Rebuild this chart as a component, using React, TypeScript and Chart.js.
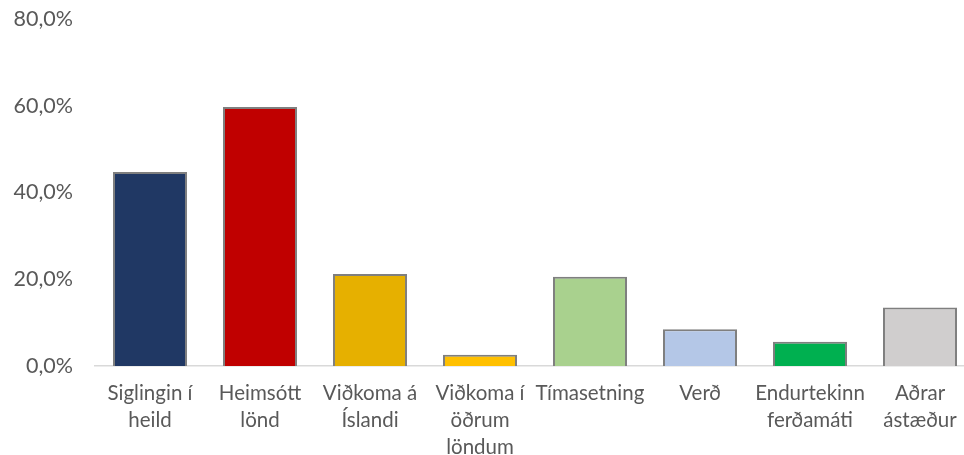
import React, { useEffect, useRef } from "react";
import { Chart, registerables } from "chart.js";

Chart.register(...registerables);

const categories: (string | string[])[] = [
  ["Siglingin í", "heild"],
  ["Heimsótt", "lönd"],
  ["Viðkoma á", "Íslandi"],
  ["Viðkoma í", "öðrum", "löndum"],
  "Tímasetning",
  "Verð",
  ["Endurtekinn", "ferðamáti"],
  ["Aðrar", "ástæður"],
];

const values: number[] = [44.7, 59.7, 21.2, 2.6, 20.6, 8.5, 5.6, 13.5];

const barColors: string[] = [
  "#203864",
  "#c00000",
  "#e6b000",
  "#ffc000",
  "#a9d18e",
  "#b4c7e7",
  "#00b050",
  "#d0cece",
];

const yTicks: number[] = [0, 20, 40, 60, 80];

const FONT = "Lato";

export default function App() {
  const ref = useRef<HTMLCanvasElement | null>(null);

  useEffect(() => {
    document.body.style.margin = "0";
    document.body.style.overflow = "hidden";
    const canvas = ref.current;
    if (!canvas) return;
    const chart = new Chart(canvas, {
      type: "bar",
      data: {
        labels: categories,
        datasets: [
          {
            data: values,
            backgroundColor: barColors,
            borderColor: "#7f7f7f",
            borderWidth: 2,
            barPercentage: 0.673,
            categoryPercentage: 1,
          },
        ],
      },
      options: {
        responsive: false,
        animation: false,
        devicePixelRatio: 1,
        layout: { padding: { top: 19, right: 15, left: 0, bottom: 0 } },
        plugins: {
          legend: { display: false },
          tooltip: { enabled: false },
        },
        scales: {
          x: {
            grid: { display: false, drawTicks: false },
            border: { display: true, color: "#d9d9d9", width: 1.5 },
            ticks: {
              color: "#595959",
              font: { family: FONT, size: 20.5, lineHeight: 1.32 },
              padding: 13.5,
              maxRotation: 0,
              minRotation: 0,
              autoSkip: false,
            },
            afterFit: (s: any) => {
              s.height = 89;
              s.paddingLeft = 0;
              s.paddingRight = 0;
            },
          },
          y: {
            min: 0,
            max: 80,
            afterBuildTicks: (s: any) => {
              s.ticks = yTicks.map((v) => ({ value: v }));
            },
            grid: { display: false, drawTicks: false },
            border: { display: false },
            ticks: {
              color: "#595959",
              font: { family: FONT, size: 21.5 },
              padding: 22,
              callback: (v: any) => Number(v).toFixed(1).replace(".", ",") + "%",
            },
            afterFit: (s: any) => {
              s.width = 95;
              s.paddingTop = 0;
              s.paddingBottom = 0;
            },
          },
        },
      },
    });
    return () => chart.destroy();
  }, []);

  return (
    <div style={{ width: 964, height: 455, overflow: "hidden", position: "relative" }}>
      <canvas ref={ref} width={990} height={455} style={{ display: "block", width: 990, height: 455 }} />
    </div>
  );
}
